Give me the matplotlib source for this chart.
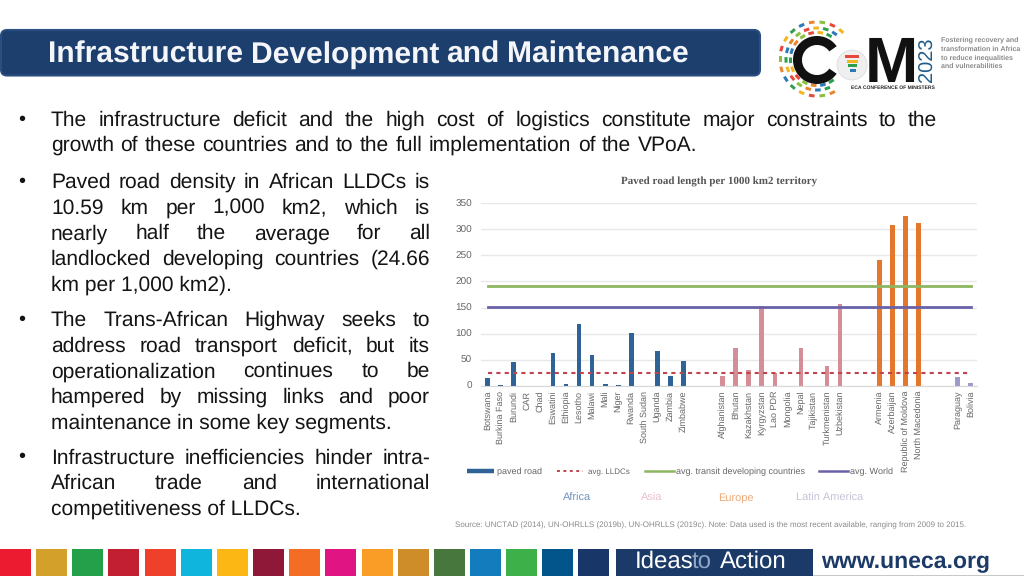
import numpy as np
import matplotlib
matplotlib.use("Agg")
import matplotlib.pyplot as plt
from matplotlib.patches import FancyBboxPatch, Rectangle, Circle, Wedge
from matplotlib.transforms import Affine2D

plt.rcParams['font.family'] = ['Liberation Sans', 'DejaVu Sans']
plt.rcParams['text.hinting'] = 'no_hinting'
plt.rcParams['text.hinting_factor'] = 1

africa = ["Botswana", "Burkina Faso", "Burundi", "CAR", "Chad", "Eswatini", "Ethiopia", "Lesotho", "Malawi", "Mali",
          "Niger", "Rwanda", "South Sudan", "Uganda", "Zambia", "Zimbabwe"]
africa_vals = [14, 1, 45, 0, 0, 62, 4, 119, 59, 3, 2, 101, 0, 67, 18, 47]
asia = ["Afghanistan", "Bhutan", "Kazakhstan", "Kyrgyzstan", "Lao PDR", "Mongolia", "Nepal", "Tajikistan",
        "Turkmenistan", "Uzbekistan"]
asia_vals = [18, 72, 30, 153, 25, 0, 72, 0, 38, 157]
europe = ["Armenia", "Azerbaijan", "Republic of Moldova", "North Macedonia"]
europe_vals = [242, 309, 326, 312]
latin = ["Paraguay", "Bolivia"]
latin_vals = [16, 5]
avg_lldc = 24.66
avg_transit = 191
avg_world = 151
yticks = [0, 50, 100, 150, 200, 250, 300, 350]

title = "Infrastructure Development and Maintenance"
para1 = ["The infrastructure deficit and the high cost of logistics constitute major constraints to the",
         "growth of these countries and to the full implementation of the VPoA."]
para2 = ["Paved road density in African LLDCs is", "10.59 km per 1,000 km2, which is",
         "nearly half the average for all", "landlocked developing countries (24.66", "km per 1,000 km2)."]
para3 = ["The Trans-African Highway seeks to", "address road transport deficit, but its",
         "operationalization continues to be", "hampered by missing links and poor",
         "maintenance in some key segments."]
para4 = ["Infrastructure inefficiencies hinder intra-", "African trade and international",
         "competitiveness of LLDCs."]
sdg_colors = ["#ED1B2F", "#D3A029", "#25A04A", "#C31F33", "#EF402B", "#0FB5DD", "#FDB714", "#8F1838", "#F36D25",
              "#E11484", "#F99D26", "#CF8D2A", "#48773E", "#137CBD", "#3EB049", "#02558B", "#183668"]

W, H = 1024, 576
fig = plt.figure(figsize=(W / 100, H / 100), dpi=100, facecolor="white")
bg = fig.add_axes([0, 0, 1, 1])
bg.set_xlim(0, W)
bg.set_ylim(H, 0)
bg.axis("off")


def place_words(line, x0, x1, y, **kw):
    rend = fig.canvas.get_renderer()
    words = line.split(" ")
    arts = [bg.text(x0, y, w, va="baseline", ha="left", **kw) for w in words]
    widths = [a.get_window_extent(rend).width for a in arts]
    gap = (x1 - x0 - sum(widths)) / (len(words) - 1)
    x = x0
    for a, w in zip(arts, widths):
        a.set_x(x)
        x += w + gap


# Header
bg.add_patch(FancyBboxPatch((1, 30), 759, 45.5, boxstyle="round,pad=0,rounding_size=6",
                            fc="#1D3F6E", ec="#2A4E80", lw=1.5))
place_words(title, 48, 689, 63, color="#F4F6FA", fontsize=21.3, fontweight="bold")

# Logo
ring_cols = ["#E8483A", "#F2B61F", "#2E9E4F", "#2A7AB8", "#E8862E", "#8CBF3F"]
lcx, lcy = 817, 59
for r, n, start in [(37, 22, 0.0), (31, 20, 0.6), (26.5, 18, 0.3)]:
    angs = np.linspace(0, 2 * np.pi, n, endpoint=False) + start
    for i, a in enumerate(angs):
        d = np.degrees(a) % 360
        if d < 55 or d > 312:
            continue
        cx = lcx + r * np.cos(a)
        cy = lcy + r * np.sin(a)
        tr = Affine2D().rotate_deg_around(cx, cy, np.degrees(a) + 90) + bg.transData
        bg.add_patch(Rectangle((cx - 2.8, cy - 1.5), 5.6, 3.0, fc=ring_cols[i % 6], ec="none", transform=tr))
bg.add_patch(Wedge((817, 60), 24, 35, 325, width=9, fc="#111111", ec="none"))
bg.add_patch(Circle((852, 65), 15, fc="#EFEFEF", ec="#D8D8D8", lw=0.5))
for k, c in enumerate(["#E8483A", "#F2B61F", "#2E9E4F", "#2A7AB8"]):
    bg.add_patch(Rectangle((845 + k * 1.5, 55 + k * 4.5), 14 - k * 2.5, 3, fc=c, ec="none"))
bg.text(891.5, 82, "M", color="#111111", fontsize=46, fontweight="bold", ha="center", va="baseline")
bg.text(928, 60, "2023", color="#1F5D8C", fontsize=14.5, rotation=90, ha="center", va="center")
bg.text(893, 88, "ECA CONFERENCE OF MINISTERS", color="#222222", fontsize=3.7, fontweight="bold",
        ha="center", va="center")
for i, s in enumerate(["Fostering recovery and", "transformation in Africa", "to reduce inequalities", "and vulnerabilities"]):
    bg.text(941, 40 + i * 8.7, s, color="#8A8A8A", fontsize=4.9, fontweight="bold", va="center", ha="left")


def draw_lines(lines, x0, x1, y0, step, justify_last=False, fs=15.45):
    for n, line in enumerate(lines):
        y = y0 + n * step
        words = line.split(" ")
        last_short = n == len(lines) - 1 and not justify_last
        if last_short or len(words) == 1:
            bg.text(x0, y, line, fontsize=fs, color="#141414", va="baseline", ha="left")
        else:
            place_words(line, x0, x1, y, fontsize=fs, color="#141414")


def bullet(y):
    bg.text(22, y, "•", fontsize=14.4, color="#141414", va="center", ha="center")


bullet(119.5)
draw_lines(para1[:1], 51, 937, 126, 25, justify_last=True)
draw_lines(para1[1:], 51, 697, 151, 25, justify_last=True)
bullet(181.5)
draw_lines(para2, 51, 430, 188, 25.6)
bullet(319.5)
draw_lines(para3, 51, 430, 326, 25.6)
bullet(457)
draw_lines(para4, 51, 430, 463.5, 25.6)

# Footer
for i, c in enumerate(sdg_colors):
    bg.add_patch(Rectangle((i * 36.15, 549), 31, 27, fc=c, ec="none"))
bg.add_patch(Rectangle((616, 549), 197, 27, fc="#1C3A68", ec="none"))
bg.text(635, 568, "Ideas", color="white", fontsize=17, va="baseline", ha="left")
bg.text(692, 568, "to", color="#8FA6C6", fontsize=17, va="baseline", ha="left")
bg.text(720, 568, "Action", color="white", fontsize=17, va="baseline", ha="left")
bg.text(821, 562, "www.uneca.org", color="#1C3A68", fontsize=16.3, fontweight="bold", va="center", ha="left")
bg.add_patch(Rectangle((813, 574.5), 211, 1.5, fc="#C8C8C8", ec="none"))

# Chart
ax = fig.add_axes([481.2 / W, 1 - 385.7 / H, 496 / W, 182.4 / H])
labels = africa + ["", ""] + asia + ["", ""] + europe + ["", ""] + latin
values = africa_vals + [0, 0] + asia_vals + [0, 0] + europe_vals + [0, 0] + latin_vals
colors = (["#2F6296"] * 16 + ["none"] * 2 + ["#D58E98"] * 10 + ["none"] * 2 + ["#E4772B"] * 4 +
          ["none"] * 2 + ["#9D9CC8"] * 2)
xpos = np.arange(len(labels))
ax.set_xlim(-0.5, len(labels) - 0.5)
ax.set_ylim(0, 350)
ax.set_yticks(yticks)
ax.yaxis.grid(True, color="#E8E8E8", lw=1)
ax.set_axisbelow(True)
ax.bar(xpos, values, width=0.36, color=colors, zorder=2)
ax.plot(xpos, [avg_transit] * len(xpos), color="#8DB661", lw=2.0, zorder=3)
ax.plot(xpos, [avg_world] * len(xpos), color="#6A62A8", lw=2.0, zorder=3)
ax.plot(xpos, [avg_lldc] * len(xpos), color="#C0444E", lw=1.5, ls=(0, (2, 2)), zorder=4)
for s in ["top", "right", "left"]:
    ax.spines[s].set_visible(False)
ax.spines["bottom"].set_color("#D8D8D8")
ax.tick_params(axis="y", length=0, labelsize=7.4, labelcolor="#666666", pad=6.5)
ax.tick_params(axis="x", length=0, pad=3.5)
ax.set_xticks(xpos)
ax.set_xticklabels(labels, rotation=90, fontsize=6.5, color="#666666", ha="center", va="top")

bg.text(719.5, 182, "Paved road length per 1000 km2 territory", fontsize=8.1, fontweight="bold",
        family="Liberation Serif", color="#555555", ha="center", va="center")

# Legend
bg.plot([467, 494], [471, 471], color="#2F6296", lw=3.2, solid_capstyle="butt")
bg.text(497, 474.5, "paved road", fontsize=6.4, color="#666666", va="baseline")
bg.plot([557, 583], [471, 471], color="#C0444E", lw=1.4, ls=(0, (1.5, 1.8)))
bg.text(588, 474.5, "avg. LLDCs", fontsize=6.0, color="#666666", va="baseline")
bg.plot([645, 674], [470.5, 470.5], color="#8DB661", lw=1.8)
bg.text(676, 474.5, "avg. transit developing countries", fontsize=6.4, color="#666666", va="baseline")
bg.plot([819, 848], [470.5, 470.5], color="#6A62A8", lw=1.8)
bg.text(850, 474.5, "avg. World", fontsize=6.4, color="#666666", va="baseline")

bg.text(563, 501, "Africa", fontsize=8.2, color="#6E93BC", va="baseline")
bg.text(641, 501, "Asia", fontsize=8.2, color="#E9BFC8", va="baseline")
bg.text(718, 501, "Europe", fontsize=8.2, color="#EDAA78", va="baseline")
bg.text(796, 501, "Latin America", fontsize=8.2, color="#C4C4D8", va="baseline")
bg.text(455, 527.5, "Source: UNCTAD (2014), UN-OHRLLS (2019b), UN-OHRLLS (2019c). Note: Data used is the most recent available, ranging from 2009 to 2015.",
        fontsize=5.83, color="#8A8A8A", va="baseline", ha="left")

fig.savefig("out.png", dpi=100)
